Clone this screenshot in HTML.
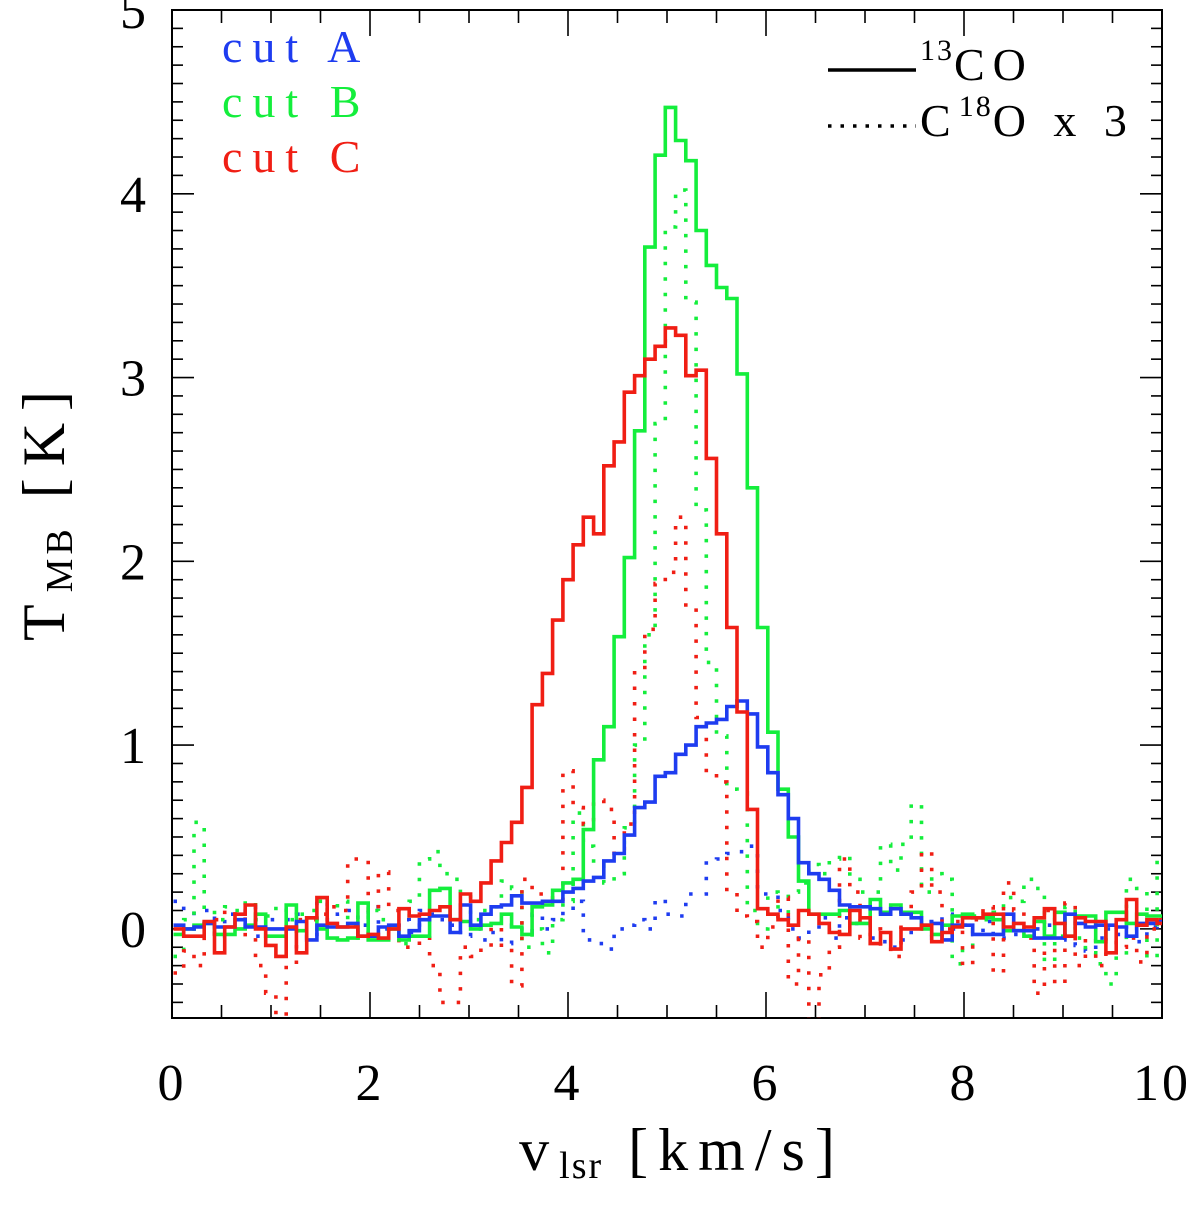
<!DOCTYPE html>
<html><head><meta charset="utf-8">
<style>
html,body{margin:0;padding:0;background:#fff;}
svg text{font-family:"Liberation Serif","DejaVu Serif",serif;}
</style></head>
<body>
<svg id="chart" width="1200" height="1206" viewBox="0 0 1200 1206" xmlns="http://www.w3.org/2000/svg">
<defs><clipPath id="plotclip"><rect x="172" y="10" width="990" height="1008"/></clipPath></defs>
<rect x="172" y="10" width="990" height="1008" fill="none" stroke="#000" stroke-width="2"/>
<g id="ticks"></g>
<g id="series" clip-path="url(#plotclip)"></g>
<g id="labels"></g>
<text x="682" y="1170" font-size="60" letter-spacing="10" text-anchor="middle">v<tspan font-size="38" dy="8" letter-spacing="2">lsr</tspan><tspan dy="-8"> [km/s]</tspan></text>
<text transform="translate(64,510) rotate(-90)" font-size="60" letter-spacing="12" text-anchor="middle">T<tspan font-size="38" dy="8" letter-spacing="4">MB</tspan><tspan dy="-8"> [K]</tspan></text>
<g font-size="46" letter-spacing="10">
<text x="222" y="62" fill="#1e3cf0">cut A</text>
<text x="222" y="117" fill="#14ee3c">cut B</text>
<text x="222" y="172" fill="#f01e14">cut C</text>
</g>
<g font-size="46" letter-spacing="8">
<line x1="828" y1="70" x2="916" y2="70" stroke="#000" stroke-width="3.5"/>
<text x="920" y="80"><tspan font-size="30" dy="-20" letter-spacing="2">13</tspan><tspan dy="20">CO</tspan></text>
<line x1="828" y1="126" x2="916" y2="126" stroke="#000" stroke-width="3.5" stroke-dasharray="3.5 9"/>
<text x="920" y="136">C<tspan font-size="30" dy="-20" letter-spacing="2">18</tspan><tspan dy="20">O x 3</tspan></text>
</g>
</svg>
<script>
const xTicks = [0,2,4,6,8,10];
const yTicks = [0,1,2,3,4,5];
const blueSolid = [0.02,0.0,0.01,0.03,0.01,0.01,0.05,0.01,0.01,0.0,0.0,0.0,0.04,-0.06,0.02,0.01,0.01,0.03,-0.04,-0.04,0.01,0.02,-0.04,-0.01,0.05,0.07,
0.07,-0.02,0.13,0.02,0.08,0.12,0.13,0.18,0.14,0.14,0.15,0.15,0.20,0.22,0.26,0.28,0.37,0.41,0.51,0.66,0.69,0.83,0.85,0.95,1.00,1.10,1.12,1.14,1.21,1.24,1.17,0.99,0.85,0.73,0.60,0.36,0.30,0.27,0.21,
0.13,0.12,0.12,0.11,0.08,0.11,0.08,0.06,0.02,0.03,-0.06,0.02,0.02,-0.03,-0.03,-0.03,0.08,-0.01,-0.01,-0.05,-0.05,-0.05,0.08,0.03,0.01,0.02,0.02,0.01,-0.04,0.03,0.03,0.04,0.03];
const greenSolid = [-0.03,0.0,0.02,0.03,-0.03,-0.03,0.0,0.02,0.08,-0.04,-0.04,0.13,-0.01,0.06,0.0,-0.05,-0.06,-0.05,0.14,-0.06,-0.06,0.0,-0.06,-0.04,-0.04,0.21,
0.22,0.05,0.04,0.0,0.02,0.03,0.08,0.01,-0.03,0.12,0.13,0.21,0.25,0.27,0.54,0.92,1.10,1.59,2.02,2.71,3.71,4.21,4.47,4.29,4.18,3.80,3.61,3.49,3.43,3.02,2.40,1.64,1.07,0.76,0.50,0.26,0.08,
0.08,0.08,0.10,0.03,0.03,0.16,0.09,0.13,0.09,0.09,0.0,-0.03,0.02,0.07,0.08,0.06,0.06,0.05,-0.01,-0.01,-0.04,0.04,-0.04,0.09,-0.04,0.07,0.07,-0.07,0.09,0.09,0.03,0.08,0.07,0.07,0.08];
const redSolid = [0.0,-0.04,-0.04,0.04,-0.13,0.01,0.08,0.13,0.0,-0.09,-0.15,0.01,-0.13,0.06,0.17,0.03,0.01,0.01,-0.04,-0.03,-0.05,0.0,0.11,0.07,0.08,0.10,0.12,0.05,0.19,
0.15,0.25,0.37,0.47,0.58,0.77,1.22,1.39,1.68,1.90,2.09,2.24,2.15,2.52,2.65,2.92,3.01,3.10,3.17,3.27,3.23,3.01,3.04,2.56,2.15,1.64,1.18,0.65,0.11,0.08,0.05,0.02,
0.10,0.08,0.03,-0.02,-0.03,0.10,0.06,-0.08,-0.02,-0.11,0.0,0.0,0.02,-0.07,-0.02,0.01,0.06,0.06,0.08,0.08,0.01,0.03,0.01,0.06,0.11,0.03,-0.04,0.06,0.04,0.04,-0.13,0.05,0.16,0.02,0.05,0.03,0.03];
const blueDotted = [0.15,0.1,0.0,0.1,-0.05,0.08,0.08,0.12,-0.04,0.05,0.05,0.05,0.08,-0.05,0.15,0.05,0.08,0.1,0.02,0.12,0.0,0.02,0.05,-0.02,0.1,0.08,0.05,
0.02,-0.04,0.0,-0.06,-0.02,-0.08,0.02,-0.02,0.08,0.0,0.05,0.1,
0.15,-0.06,-0.08,-0.11,0.0,0.02,0.05,0.0,0.16,0.08,0.07,0.19,0.19,0.37,0.38,0.41,0.42,0.45,0.19,0.19,0.1,0.0,
-0.05,0.0,0.06,-0.05,0.06,0.03,0.02,-0.05,-0.07,-0.1,-0.06,0.0,0.04,-0.05,0.08,0.0,0.02,-0.03,0.04,-0.05,-0.05,-0.03,-0.04,0.0,0.02,-0.06,0.03,-0.09,-0.12,-0.05,0.0,-0.03,0.02,-0.07,0.01,0.03,0.0];
const greenDotted = [-0.15,0.05,0.58,0.1,0.05,0.12,0.1,0.15,0.05,0.07,0.12,0.05,0.08,0.1,0.15,0.1,0.15,0.02,-0.05,0.1,0.05,0.0,-0.08,0.15,0.38,0.42,
0.30,0.27,0.19,0.05,0.10,0.12,0.26,0.22,-0.10,0.00,-0.13,0.05,0.15,0.63,0.45,0.35,0.25,0.30,0.55,
1.0,1.6,2.75,3.82,4.02,3.41,2.28,1.45,1.05,0.76,0.74,0.10,0.0,0.2,0.05,0.2,
0.25,0.35,0.30,0.38,0.40,0.27,0.20,0.20,0.46,0.32,0.46,0.68,0.2,0.30,0.27,-0.19,-0.09,0.07,0.05,0.09,0.17,0.15,0.27,0.22,-0.18,-0.04,0.12,-0.05,-0.13,-0.19,-0.3,-0.15,0.27,0.22,-0.16,0.39,0.3];
const redDotted = [-0.24,-0.12,-0.2,-0.05,0.05,0.1,0.08,-0.05,-0.2,-0.35,-0.6,-0.2,0.05,0.05,0.08,0.12,0.1,0.38,0.38,0.1,0.31,0.1,-0.1,-0.1,-0.05,-0.2,-0.4,
-0.4,-0.1,-0.15,-0.1,0.01,-0.1,-0.31,0.27,0.19,0.19,0.15,0.86,0.66,0.57,0.7,0.65,0.41,0.57,1.41,1.63,1.88,1.94,2.24,1.75,1.15,0.85,0.8,0.2,0.07,0.04,-0.1,0.01,0.17,-0.3,
-0.05,-0.55,-0.25,-0.1,0.38,0.2,-0.05,0.0,-0.1,-0.15,0.1,0.2,0.42,0.2,0.0,0.04,-0.2,0.05,0.12,-0.24,0.25,0.1,-0.05,-0.35,0.1,-0.3,0.14,-0.2,-0.05,-0.2,-0.05,-0.1,-0.05,-0.18,0.0,0.05,0.0];

const X0=172, X1=1162, Y0=10, Y1=1018, XMIN=0, XMAX=10, YMIN=-0.485, YMAX=5;
const V0=0.015, DV=0.1035;
function xs(v){return X0+(v-XMIN)/(XMAX-XMIN)*(X1-X0);}
function ys(t){return Y1-(t-YMIN)/(YMAX-YMIN)*(Y1-Y0);}
const NS='http://www.w3.org/2000/svg';
const tickG=document.getElementById('ticks');
function tick(x1,y1,x2,y2){const l=document.createElementNS(NS,'line');
l.setAttribute('x1',x1);l.setAttribute('y1',y1);l.setAttribute('x2',x2);l.setAttribute('y2',y2);
l.setAttribute('stroke','#000');l.setAttribute('stroke-width','1.6');


tickG.appendChild(l);}
for(let i=0;i<=20;i++){const v=i*0.5;const x=xs(v);const L=(i%4===0)?26:13;
tick(x,Y1,x,Y1-L);tick(x,Y0,x,Y0+L);}
for(let i=-4;i<=50;i++){const t=i*0.1;const y=ys(t);if(y<Y0||y>Y1)continue;const L=(i%10===0)?22:11;
tick(X0,y,X0+L,y);tick(X1,y,X1-L,y);}
const lab=document.getElementById('labels');
xTicks.forEach(v=>{const t=document.createElementNS(NS,'text');
t.setAttribute('x',xs(v));t.setAttribute('y',1100);t.setAttribute('font-size','52');t.setAttribute('text-anchor','middle');t.setAttribute('letter-spacing','3');


t.textContent=v;lab.appendChild(t);});
yTicks.forEach(v=>{const t=document.createElementNS(NS,'text');
t.setAttribute('x',146);t.setAttribute('y',ys(v)+18);t.setAttribute('font-size','52');t.setAttribute('text-anchor','end');


t.textContent=v;lab.appendChild(t);});
const sg=document.getElementById('series');
function step(vals,color,dotted,name){
  let d='';
  vals.forEach((val,i)=>{const xa=xs(V0+i*DV), xb=xs(V0+(i+1)*DV), y=ys(val);
    d+=(i===0?'M':'L')+xa.toFixed(1)+','+y.toFixed(1)+'L'+xb.toFixed(1)+','+y.toFixed(1);});
  const p=document.createElementNS(NS,'path');
  p.setAttribute('d',d);p.setAttribute('fill','none');p.setAttribute('stroke',color);
  p.setAttribute('stroke-width','3.6');
  if(dotted){p.setAttribute('stroke-dasharray','3.5 12');}
  
  
  sg.appendChild(p);
}
step(blueDotted,'#1e3cf0',true,'cut-a-c18o-line');
step(greenDotted,'#14ee3c',true,'cut-b-c18o-line');
step(redDotted,'#f01e14',true,'cut-c-c18o-line');
step(greenSolid,'#14ee3c',false,'cut-b-13co-line');
step(blueSolid,'#1e3cf0',false,'cut-a-13co-line');
step(redSolid,'#f01e14',false,'cut-c-13co-line');
</script>
</body></html>
